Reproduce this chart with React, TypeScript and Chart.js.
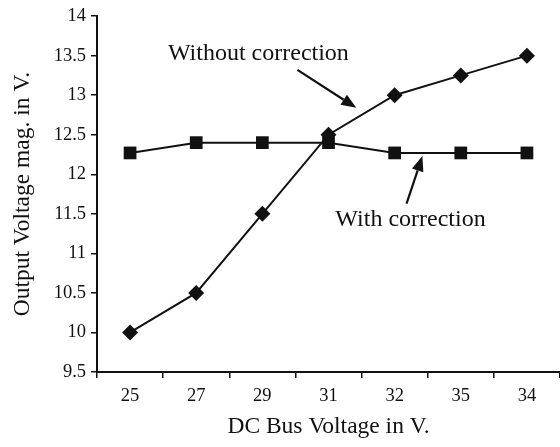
import React, { useEffect, useRef } from "react";
import { Chart, registerables } from "chart.js";

Chart.register(...registerables);

const categories = ["25", "27", "29", "31", "32", "35", "34"];
const withoutCorrection = [10, 10.5, 11.5, 12.5, 13, 13.25, 13.5];
const withCorrection = [12.27, 12.4, 12.4, 12.4, 12.27, 12.27, 12.27];
const yMin = 9.5;
const yMax = 14;
const yStep = 0.5;

const seriesLabels = ["Without correction", "With correction"];

// annotation anchors in data space (category index, value)
const annWithoutText = { i: 1.94, v: 13.53 };
const annWithoutArrow = { from: { i: 2.53, v: 13.32 }, to: { i: 3.42, v: 12.84 } };
const annWithText = { i: 4.24, v: 11.43 };
const annWithArrow = { from: { i: 4.18, v: 11.63 }, to: { i: 4.42, v: 12.23 } };

const FONT = "'Liberation Serif', 'Times New Roman', serif";
const INK = "#111";

const annotationPlugin = {
  id: "annotations",
  afterDatasetsDraw(chart: any) {
    const { ctx, scales } = chart;
    const x = scales.x;
    const y = scales.y;
    const px = (i: number) => {
      const a = x.getPixelForValue(Math.floor(i));
      const b = x.getPixelForValue(Math.floor(i) + 1);
      return a + (b - a) * (i - Math.floor(i));
    };
    const py = (v: number) => y.getPixelForValue(v);
    ctx.save();
    ctx.fillStyle = INK;
    ctx.strokeStyle = INK;
    ctx.font = `24px ${FONT}`;
    ctx.textAlign = "center";
    ctx.textBaseline = "middle";
    ctx.fillText(seriesLabels[0], px(annWithoutText.i), py(annWithoutText.v));
    ctx.fillText(seriesLabels[1], px(annWithText.i), py(annWithText.v));
    const arrow = (f: any, t: any) => {
      const x1 = px(f.i), y1 = py(f.v), x2 = px(t.i), y2 = py(t.v);
      const ang = Math.atan2(y2 - y1, x2 - x1);
      const hl = 15, hw = 6;
      const bx = x2 - hl * Math.cos(ang), by = y2 - hl * Math.sin(ang);
      ctx.lineWidth = 2.2;
      ctx.beginPath();
      ctx.moveTo(x1, y1);
      ctx.lineTo(bx, by);
      ctx.stroke();
      ctx.beginPath();
      ctx.moveTo(x2, y2);
      ctx.lineTo(bx + hw * Math.sin(ang), by - hw * Math.cos(ang));
      ctx.lineTo(bx - hw * Math.sin(ang), by + hw * Math.cos(ang));
      ctx.closePath();
      ctx.fill();
    };
    arrow(annWithoutArrow.from, annWithoutArrow.to);
    arrow(annWithArrow.from, annWithArrow.to);
    ctx.restore();
  },
};

export default function App() {
  const ref = useRef<HTMLCanvasElement>(null);
  useEffect(() => {
    if (!ref.current) return;
    const chart = new Chart(ref.current, {
      type: "line",
      data: {
        labels: categories,
        datasets: [
          {
            label: seriesLabels[0],
            data: withoutCorrection,
            borderColor: INK,
            backgroundColor: INK,
            borderWidth: 2,
            pointStyle: "rectRot",
            pointRadius: 8,
            pointBorderWidth: 0,
            tension: 0,
          },
          {
            label: seriesLabels[1],
            data: withCorrection,
            borderColor: INK,
            backgroundColor: INK,
            borderWidth: 2,
            pointStyle: "rect",
            pointRadius: 9,
            pointBorderWidth: 0,
            tension: 0,
          },
        ],
      },
      options: {
        responsive: false,
        animation: false,
        layout: { autoPadding: false, padding: { top: 15, right: 0, left: 0, bottom: 0 } },
        plugins: { legend: { display: false }, tooltip: { enabled: false } },
        scales: {
          x: {
            type: "category",
            offset: true,
            grid: {
              offset: true,
              drawOnChartArea: false,
              drawTicks: true,
              tickLength: 6,
              color: INK,
              lineWidth: 1.5,
            },
            border: { display: true, color: INK, width: 2 },
            ticks: {
              color: INK,
              font: { family: FONT, size: 18.5 },
              padding: 7,
              maxRotation: 0,
            },
            title: {
              display: true,
              text: "DC Bus Voltage in V.",
              color: INK,
              font: { family: FONT, size: 23.5 },
              padding: { top: 6, bottom: 6 },
            },
            afterFit: (s: any) => {
              s.height = 75;
            },
          },
          y: {
            min: yMin,
            max: yMax,
            grid: {
              drawOnChartArea: false,
              drawTicks: true,
              tickLength: 6,
              color: INK,
              lineWidth: 1.5,
            },
            border: { display: true, color: INK, width: 2 },
            ticks: {
              stepSize: yStep,
              color: INK,
              font: { family: FONT, size: 18.5 },
              padding: 5,
              callback: (v: any) => String(v),
            },
            title: {
              display: true,
              text: "Output Voltage mag. in V.",
              color: INK,
              font: { family: FONT, size: 23.5 },
              padding: { top: 9, bottom: 6 },
            },
            afterFit: (s: any) => {
              s.width = 97;
            },
          },
        },
      },
      plugins: [annotationPlugin],
    });
    return () => chart.destroy();
  }, []);
  return (
    <div style={{ position: "fixed", left: 0, top: 0, width: 560, height: 447, background: "#fff" }}>
      <canvas ref={ref} width={560} height={447} />
    </div>
  );
}
